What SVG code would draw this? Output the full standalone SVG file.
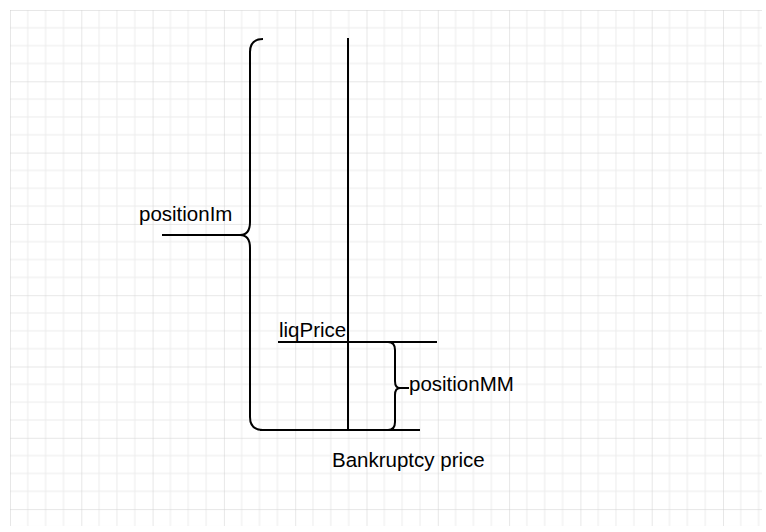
<svg xmlns="http://www.w3.org/2000/svg" width="766" height="532" viewBox="0 0 766 532">
<style>
.l{fill:none;stroke:#000;stroke-width:2}
.t{font-family:"Liberation Sans",Arial,sans-serif;font-size:20.5px;fill:#000}
</style>
<defs>
<pattern id="g" x="10" y="10" width="71.3" height="71.3" patternUnits="userSpaceOnUse">
<path d="M17.8 0V71.3M35.6 0V71.3M53.5 0V71.3M0 17.8H71.3M0 35.6H71.3M0 53.5H71.3" stroke="#ececec" stroke-width="1" fill="none"/>
<path d="M0 0V71.3M0 0H71.3" stroke="#d0d0d0" stroke-width="1" fill="none"/>
</pattern>
</defs>
<rect width="766" height="532" fill="#fff"/>
<rect x="10" y="10" width="752" height="516" fill="url(#g)"/>
<g id="connectors">
<path class="l" d="M162 235H240"/>
<path class="l" d="M348 38V430"/>
<path class="l" d="M260 430H420"/>
<path class="l" d="M278 342H437"/>
<path class="l" d="M400 388H409"/>
</g>
<g id="bigBrace"><path class="l" d="M263 39Q250 39 250 52V222Q250 235 240 235Q250 235 250 248V417Q250 430 263 430"/></g>
<g id="smallBrace"><path class="l" d="M388 342Q395 342 395 350V381Q395 388 400 388Q395 388 395 395V422Q395 430 388 430"/></g>
<g id="positionIm"><text class="t" x="139" y="221">positionIm</text></g>
<g id="liqPrice"><text class="t" x="279" y="337">liqPrice</text></g>
<g id="positionMM"><text class="t" x="409" y="391">positionMM</text></g>
<g id="bankruptcy"><text class="t" x="332" y="467">Bankruptcy price</text></g>
</svg>
